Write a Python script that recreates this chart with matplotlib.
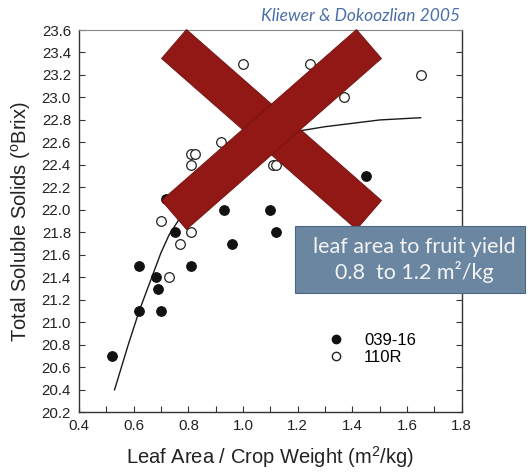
import matplotlib
matplotlib.use("Agg")
import matplotlib.pyplot as plt
from matplotlib.patches import Polygon, Rectangle
from matplotlib.lines import Line2D

# ---- data ----
rootstock_a = "039-16"
rootstock_b = "110R"
filled_x = [0.52, 0.62, 0.62, 0.68, 0.69, 0.70, 0.72, 0.75, 0.81, 0.93, 0.96, 1.10, 1.12, 1.45]
filled_y = [20.7, 21.1, 21.5, 21.4, 21.3, 21.1, 22.1, 21.8, 21.5, 22.0, 21.7, 22.0, 21.8, 22.3]
open_x = [0.70, 0.73, 0.77, 0.81, 0.81, 0.81, 0.825, 0.92, 1.00, 1.11, 1.12, 1.245, 1.37, 1.65]
open_y = [21.9, 21.4, 21.7, 21.8, 22.4, 22.5, 22.5, 22.6, 23.3, 22.4, 22.4, 23.3, 23.0, 23.2]
curve_x = [0.53, 0.58, 0.62, 0.66, 0.70, 0.73, 0.77, 0.80, 0.85, 0.90, 0.95, 1.00,
           1.10, 1.20, 1.30, 1.40, 1.50, 1.65]
curve_y = [20.40, 20.80, 21.10, 21.36, 21.62, 21.78, 21.93, 22.08, 22.27, 22.40, 22.49,
           22.56, 22.65, 22.70, 22.74, 22.77, 22.80, 22.82]
x_ticks = [0.4, 0.6, 0.8, 1.0, 1.2, 1.4, 1.6, 1.8]
y_ticks = [20.2, 20.4, 20.6, 20.8, 21.0, 21.2, 21.4, 21.6, 21.8, 22.0, 22.2, 22.4, 22.6,
           22.8, 23.0, 23.2, 23.4, 23.6]
title_text = "Kliewer & Dokoozlian 2005"
box_text = "leaf area to fruit yield\n0.8  to 1.2 m\u00b2/kg"

W, H = 529, 473
plt.rcParams['font.family'] = ['Liberation Sans', 'DejaVu Sans']
plt.rcParams['mathtext.fontset'] = 'custom'
plt.rcParams['mathtext.rm'] = 'Liberation Sans'
plt.rcParams['mathtext.it'] = 'Liberation Sans:italic'

fig = plt.figure(figsize=(W / 100, H / 100), dpi=100)
fig.patch.set_facecolor('white')

def fx(px):
    return px / W

def fy(py):
    return 1 - py / H

ax = fig.add_axes([fx(79), fy(412.3), fx(461.7) - fx(79), fy(30) - fy(412.3)])
ax.set_xlim(0.4, 1.8)
ax.set_ylim(20.2, 23.6)

ax.plot(curve_x, curve_y, color='#1a1a1a', lw=1.0, zorder=2)
ax.scatter(filled_x, filled_y, s=48, facecolor='#111111', edgecolor='#111111', lw=0.8, zorder=3)
ax.scatter(open_x, open_y, s=48, facecolor='white', edgecolor='#222222', lw=0.9, zorder=3)

ax.set_xticks(x_ticks)
ax.set_xticks([0.5, 0.7, 0.9, 1.1, 1.3, 1.5, 1.7], minor=True)
ax.set_yticks(y_ticks)
ax.set_xticklabels([f"{v:.1f}" for v in x_ticks])
ax.set_yticklabels([f"{v:.1f}" for v in y_ticks])
for lab in ax.get_xticklabels() + ax.get_yticklabels():
    lab.set_fontsize(10.8)
    lab.set_color('#222222')
ax.tick_params(axis='both', which='both', direction='in', length=4.3, width=0.8, color='#333333')
ax.tick_params(axis='y', right=True, pad=5.8)
ax.tick_params(axis='x', pad=5.0)

for side in ['left', 'bottom', 'right']:
    ax.spines[side].set_color('#333333')
    ax.spines[side].set_linewidth(1.0)
ax.spines['top'].set_color('#888888')
ax.spines['top'].set_linewidth(0.8)

ax.set_xlabel(r'Leaf Area / Crop Weight (m$^{2}$/kg)', fontsize=14.5, color='#222222', labelpad=8)
ax.set_ylabel(r'Total Soluble Solids ($^{\mathrm{o}}$Brix)', fontsize=14.5, color='#222222', labelpad=6)

handles = [Line2D([], [], ls='none', marker='o', ms=6, mfc='#111111', mec='#111111'),
           Line2D([], [], ls='none', marker='o', ms=6, mfc='white', mec='#222222')]
ax.legend(handles, [rootstock_a, rootstock_b], loc='upper left',
          bbox_to_anchor=(fx(327.4), fy(333.0)), bbox_transform=fig.transFigure,
          frameon=False, fontsize=12, handlelength=1.0, handletextpad=1.2,
          borderpad=0, borderaxespad=0, labelspacing=0.1, numpoints=1)

# title
fig.text(fx(460), fy(16), title_text, ha='right', va='center', fontsize=12.5,
         style='italic', color='#4a6ea8', family=['Lato', 'DejaVu Sans'])

# red X overlay
xcol = '#921815'
bar1 = [(161.5, 58.5), (186.5, 29.5), (381.5, 200.5), (356.5, 229.5)]
bar2 = [(356.5, 29.5), (381.5, 58.5), (186.5, 229.5), (161.5, 200.5)]
for bar in (bar1, bar2):
    fig.add_artist(Polygon([(fx(a), fy(b)) for a, b in bar], closed=True,
                           transform=fig.transFigure, facecolor=xcol,
                           edgecolor='#6e1210', lw=0.6, zorder=5))

# blue box
fig.add_artist(Rectangle((fx(295), fy(293.3)), fx(525) - fx(295), fy(225.7) - fy(293.3),
                         transform=fig.transFigure, facecolor='#6a86a1',
                         edgecolor='#4d6781', lw=0.8, zorder=6))
fig.text(fx(414.5), fy(260), box_text, ha='center', va='center', fontsize=15.5,
         color='#f4f4f4', family=['Lato', 'DejaVu Sans'], linespacing=1.2, zorder=7)

fig.savefig('out.png', dpi=100)
